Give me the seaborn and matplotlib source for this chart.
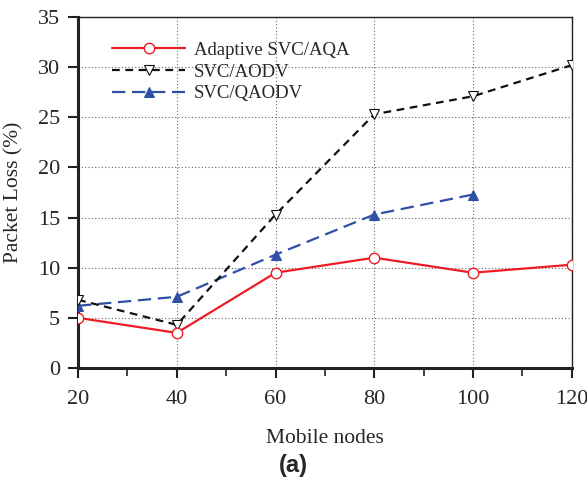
import matplotlib
matplotlib.use("Agg")
import matplotlib.pyplot as plt
import seaborn as sns
import pandas as pd
from matplotlib.ticker import MultipleLocator

sns.set_theme(style="ticks")
plt.rcParams['font.family'] = ['Liberation Serif', 'DejaVu Serif']

nodes = [20, 40, 60, 80, 100, 120]
aqa = [5.0, 3.5, 9.5, 11.0, 9.5, 10.3]
aodv = [6.8, 4.3, 15.3, 25.3, 27.1, 30.2]
qaodv_nodes = [20, 40, 60, 80, 100]
qaodv = [6.2, 7.1, 11.3, 15.3, 17.3]

fig = plt.figure(figsize=(5.87, 4.87), dpi=100)
ax = fig.add_axes([0.133, 0.2444, 0.841, 0.7206])

ax.grid(True, which='major', linestyle=(0, (1, 2)), color='#666666', linewidth=0.8)
ax.set_axisbelow(True)

sns.lineplot(x=nodes, y=aqa, ax=ax, color='#ee1c24', linewidth=1.6,
             marker='o', markersize=7.5, markerfacecolor='white', markeredgecolor='#ee1c24',
             markeredgewidth=1.0, label='Adaptive SVC/AQA', zorder=5)
sns.lineplot(x=nodes, y=aodv, ax=ax, color='#111111', linewidth=1.6, linestyle=(0, (3.5, 2.5)),
             marker='v', markersize=7.5, markerfacecolor='white', markeredgecolor='#111111',
             markeredgewidth=0.8, label='SVC/AODV', zorder=4)
sns.lineplot(x=qaodv_nodes, y=qaodv, ax=ax, color='#2e4fa3', linewidth=1.6, linestyle=(0, (6, 3)),
             marker='^', markersize=7.5, markerfacecolor='#2e4fa3', markeredgecolor='#2e4fa3',
             label='SVC/QAODV', zorder=3)

ax.set_xlim(20, 120)
ax.set_ylim(0, 35)
ax.xaxis.set_major_locator(MultipleLocator(20))
ax.xaxis.set_minor_locator(MultipleLocator(10))
ax.yaxis.set_major_locator(MultipleLocator(5))
ax.tick_params(axis='both', which='major', direction='out', length=7, width=1.5, labelsize=16, color='#222222')
ax.tick_params(axis='x', which='major', pad=9)
ax.tick_params(axis='y', which='major', pad=6)
ax.tick_params(axis='x', which='minor', direction='out', length=6, width=1.2, color='#222222')
ax.tick_params(axis='y', which='minor', length=0)

for s in ['left', 'bottom']:
    ax.spines[s].set_linewidth(2.2)
    ax.spines[s].set_color('#222222')
for s in ['top', 'right']:
    ax.spines[s].set_linewidth(1.0)
    ax.spines[s].set_color('#222222')

ax.set_xlabel('Mobile nodes', fontsize=15.5, labelpad=14)
ax.set_ylabel('Packet Loss (%)', fontsize=15.5, labelpad=10)

leg = ax.legend(loc='upper left', bbox_to_anchor=(0.035, 0.978), frameon=False, fontsize=13.5,
                handlelength=3.9, handletextpad=0.45, labelspacing=0.25)

fig.text(0.5, 0.045, '(a)', ha='center', va='center', fontsize=17, fontweight='bold',
         family=['Liberation Sans', 'DejaVu Sans'])

fig.savefig('out.png', dpi=100)
